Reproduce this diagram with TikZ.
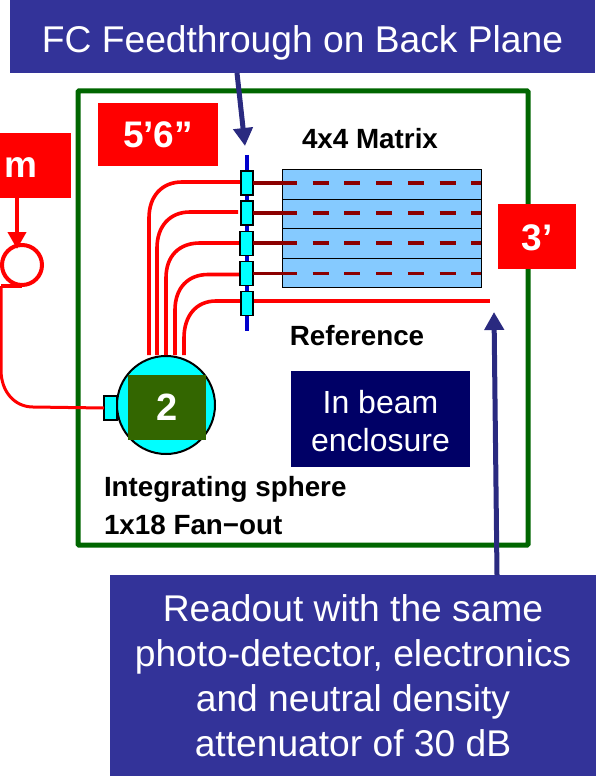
\documentclass[tikz,border=0pt]{standalone}
\usepackage{fontspec}
\setmainfont{Liberation Sans}
\usetikzlibrary{arrows.meta}
\definecolor{callout}{HTML}{333399}
\definecolor{arrowblue}{HTML}{2A2A80}
\definecolor{frame}{HTML}{006600}
\definecolor{sqgreen}{HTML}{336600}
\definecolor{deepblue}{HTML}{000066}
\definecolor{matrixblue}{HTML}{85CAFF}
\definecolor{darkred}{HTML}{8B0000}
\definecolor{ftcyan}{HTML}{00FFFF}
\definecolor{railblue}{HTML}{0000CC}
\definecolor{pure}{HTML}{FF0000}
\newcommand{\fs}[1]{\fontsize{#1}{#1}\selectfont}
\newcommand{\low}[2]{\raisebox{-#1}[0pt][0pt]{#2}}
\tikzset{
  every node/.style={inner sep=0pt,outer sep=0pt},
  calloutbox/.style={fill=callout,text=white,align=center},
  redbox/.style={fill=pure,text=white,font=\fs{37}\bfseries},
  fiber/.style={draw=pure,line width=3.6pt},
  callarrow/.style={draw=arrowblue,line width=5pt,-{Triangle[length=18pt,width=19pt]}},
  ftbox/.style={draw=black,line width=1.3pt,fill=ftcyan,minimum width=12pt,minimum height=24pt},
  cell/.style={draw=black,line width=0.9pt,fill=matrixblue,minimum width=199pt,minimum height=29.5pt},
  beam/.style={draw=darkred,line width=3.6pt},
  lab/.style={font=\fs{27.8}\bfseries,text=black}
}
\begin{document}
\begin{tikzpicture}[x=1pt,y=-1pt]
\useasboundingbox (0,0) rectangle (596,778);
% frame
\node[draw=frame,line width=5pt,rounded corners=1pt,minimum width=450pt,minimum height=454pt] (frame) at (303,318) {};
% left lamp
\node[draw=pure,line width=4pt,circle,minimum size=40pt] (lamp) at (22,265) {};
\coordinate (lampfoot) at (22,286);
\coordinate (lampcorner) at (1,286);
% integrating sphere
\node[draw=black,line width=2pt,fill=ftcyan,circle,minimum size=98pt] (sphere) at (166,405) {};
\node[fill=sqgreen,text=white,font=\fs{38}\bfseries,minimum width=78pt,minimum height=65pt] (two) at (167,407.5) {2};
\node[draw=black,line width=1.3pt,fill=ftcyan,minimum width=13pt,minimum height=24pt] (port) at (110.5,408) {};
% matrix
\node[cell] (m1) at (381.5,184.5) {};
\node[cell] (m2) at (381.5,214) {};
\node[cell] (m3) at (381.5,243.5) {};
\node[cell] (m4) at (381.5,273) {};
% feedthrough
\coordinate (railtop) at (247,155);
\coordinate (railbot) at (247,331);
\draw[railblue,line width=4.5pt] (railtop) -- (railbot);
% fibres to the matrix
\coordinate (a1) at (149,355); \coordinate (a2) at (157,355); \coordinate (a3) at (166,355);
\coordinate (a4) at (175,355); \coordinate (a5) at (184,355);
\coordinate (b1) at (245,182); \coordinate (b2) at (238,212); \coordinate (b3) at (245,243);
\coordinate (b4) at (245,274.5); \coordinate (b5) at (245,301);
\coordinate (refend) at (490,301);
\draw[fiber] (a1) -- (149,218) .. controls (149,196) and (162,182) .. (182,182) -- (b1);
\draw[fiber] (a2) -- (157,248) .. controls (157,226) and (170,212) .. (190,212) -- (b2);
\draw[fiber] (a3) -- (166,278) .. controls (166,256) and (179,243) .. (200,243) -- (b3);
\draw[fiber] (a4) -- (175,310) .. controls (175,288) and (188,274.5) .. (208,274.5) -- (b4);
\draw[fiber] (a5) -- (184,338) .. controls (184,316) and (196,301) .. (216,301) -- (b5);
\draw[fiber] (b5) -- (refend);
% feedthrough boxes
\node[ftbox] (f1) at (247,183) {};
\node[ftbox] (f2) at (247,213) {};
\node[ftbox,minimum width=13pt] (f3) at (246.5,243.5) {};
\node[ftbox,minimum width=13pt] (f4) at (246.5,273.5) {};
\node[ftbox] (f5) at (247,303.5) {};
% fibres through the matrix
\foreach \n/\yy in {1/183,2/213,3/243,4/273.5}{
  \coordinate (ms\n) at (297,\yy);
  \coordinate (me\n) at (481,\yy);
  \draw[beam] (f\n.east |- ms\n) -- (ms\n);
  \draw[beam,dash pattern=on 16pt off 15.7pt] ([xshift=15.7pt]ms\n) -- (me\n);
}
% lamp feed
\draw[fiber] (lampcorner) -- (lampfoot);
\draw[fiber,line width=3pt] (lampcorner) -- (1,370) .. controls (1,392) and (15,407) .. (33,407) -- (port.west);
% red labels
\node[redbox,minimum width=120pt,minimum height=63pt] (t56) at (158,134.5) {\low{13pt}{5’6”}};
\node[redbox,minimum width=100pt,minimum height=65pt] (tm) at (21,165.5) {\low{12.5pt}{m}};
\node[redbox,minimum width=78pt,minimum height=65pt] (t3) at (537,236.5) {\low{13.5pt}{3’}};
\draw[draw=pure,line width=4pt,-{Triangle[length=17pt,width=18pt]}] (17,198) -- (17,249);
% text
\node[lab] (matrixlabel) at (370,139) {4x4 Matrix};
\node[lab] (reflabel) at (357,336) {Reference};
\node[lab,anchor=west] (islabel) at (104,489) {Integrating sphere};
\node[lab,anchor=west] (fanlabel) at (104,525) {1x18 Fan−out};
\node[fill=deepblue,minimum width=179pt,minimum height=96pt] (beambox) at (380.5,419) {};
\node[text=white,align=center,font=\fs{32}] (beamlabel) at (380.5,421) {In beam\\[6pt]enclosure};
% callouts
\node[calloutbox,font=\fs{37.2},minimum width=585pt,minimum height=73pt] (top) at (302.5,36.5) {\low{16.5pt}{FC Feedthrough on Back Plane}};
\node[calloutbox,font=\fs{37.2},minimum width=486pt,minimum height=201pt] (bottom) at (353,675.5) {Readout with the same\\[7.8pt]photo-detector, electronics\\[7.8pt]and neutral density\\[7.8pt]attenuator of 30 dB};
\coordinate (toptip) at (245,146);
\coordinate (bottomtip) at (494,312);
\draw[callarrow] (237,73) -- (toptip);
\draw[callarrow] (497,575) -- (bottomtip);
\end{tikzpicture}
\end{document}
